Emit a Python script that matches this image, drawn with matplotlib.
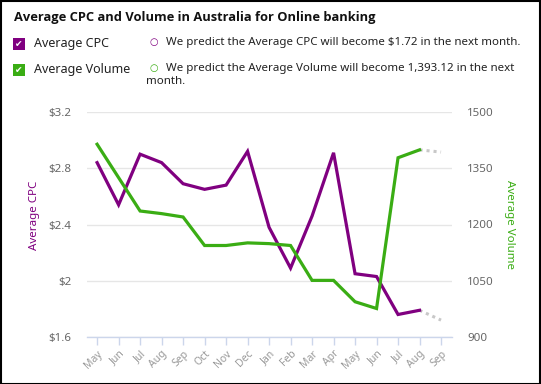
import matplotlib
matplotlib.use("Agg")
import matplotlib.pyplot as plt
from matplotlib.patches import Rectangle

plt.rcParams['font.family'] = ['Noto Sans', 'DejaVu Sans']

months = ["May", "Jun", "Jul", "Aug", "Sep", "Oct", "Nov", "Dec", "Jan", "Feb",
          "Mar", "Apr", "May", "Jun", "Jul", "Aug", "Sep"]
cpc = [2.84, 2.54, 2.90, 2.84, 2.69, 2.65, 2.68, 2.92, 2.38, 2.09,
       2.46, 2.91, 2.05, 2.03, 1.76, 1.79]
volume = [1414, 1325, 1236, 1229, 1220, 1144, 1144, 1151, 1149, 1144,
          1051, 1051, 994, 976, 1378, 1399]
cpc_pred = 1.72
vol_pred = 1393.12

cpc_ticks = [1.6, 2.0, 2.4, 2.8, 3.2]
cpc_labels = ["$1.6", "$2", "$2.4", "$2.8", "$3.2"]
vol_ticks = [900, 1050, 1200, 1350, 1500]

PURPLE = "#800080"
GREEN = "#3aad14"
GRAY = "#666666"
AXC = "#ccd6eb"

fig = plt.figure(figsize=(5.41, 3.84), dpi=100)
ax = fig.add_axes([87/541, 1-337/384, (452-87)/541, (337-112)/384])
ax2 = ax.twinx()

x = list(range(len(cpc)))
n = len(months)

ax.plot(x, cpc, color=PURPLE, lw=2.3, solid_joinstyle='miter', zorder=3)
ax.plot([x[-1], n-1], [cpc[-1], cpc_pred], color="#c8c8c8", lw=2.2,
        linestyle=(0, (1, 1.3)), zorder=2)
ax2.plot(x, volume, color=GREEN, lw=2.3, solid_joinstyle='miter', zorder=3)
ax2.plot([x[-1], n-1], [volume[-1], vol_pred], color="#c8c8c8", lw=2.2,
         linestyle=(0, (1, 1.3)), zorder=2)

ax.set_xlim(-0.47, n-1+0.51)
ax.set_ylim(1.6, 3.2)
ax2.set_ylim(900, 1500)
ax.set_yticks(cpc_ticks)
ax.set_yticklabels(cpc_labels)
ax2.set_yticks(vol_ticks)
ax.set_xticks(range(n))
ax.set_xticklabels(months, rotation=45, ha='right', rotation_mode='anchor')

for a in (ax, ax2):
    for s in a.spines.values():
        s.set_visible(False)
ax.spines['bottom'].set_visible(True)
ax.spines['bottom'].set_color(AXC)
ax.spines['bottom'].set_linewidth(1)
ax.set_axisbelow(True)
ax.grid(axis='y', color="#e6e6e6", lw=1)
ax.tick_params(axis='x', colors=AXC, length=6, width=1, labelcolor="#999999",
               labelsize=7.5, pad=2)
ax.tick_params(axis='y', length=0, labelcolor=GRAY, labelsize=8.3, pad=11)
ax2.tick_params(axis='y', length=0, labelcolor=GRAY, labelsize=8.3, pad=11)

fig.text(35/541, 1-215/384, "Average CPC", color=PURPLE, fontsize=8.3,
         rotation=90, ha='center', va='center')
fig.text(510/541, 1-225/384, "Average Volume", color=GREEN, fontsize=8.3,
         rotation=270, ha='center', va='center')

fig.text(14/541, 1-18/384, "Average CPC and Volume in Australia for Online banking",
         fontsize=9.3, fontweight='bold', ha='left', va='center', color="#111111",
         family=['Open Sans', 'DejaVu Sans'])

# legend checkboxes
for yc, col, lab in [(44, PURPLE, "Average CPC"), (70, GREEN, "Average Volume")]:
    fig.patches.append(Rectangle((13/541, 1-(yc+6)/384), 12/541, 12/384,
                                 transform=fig.transFigure, facecolor=col,
                                 edgecolor='none'))
    fig.text(19/541, 1-yc/384, "\u2714", color='white', fontsize=6.5,
             ha='center', va='center', family=['DejaVu Sans'])
    fig.text(34/541, 1-yc/384, lab, fontsize=9, ha='left', va='center',
             color="#222222")

fig.text(154/541, 1-42/384, "\u25cb", color=PURPLE, fontsize=7, ha='center',
         va='center', family=['DejaVu Sans'])
fig.text(166/541, 1-42/384,
         "We predict the Average CPC will become $1.72 in the next month.",
         fontsize=8.3, ha='left', va='center', color="#222222")
fig.text(154/541, 1-68/384, "\u25cb", color=GREEN, fontsize=7, ha='center',
         va='center', family=['DejaVu Sans'])
fig.text(166/541, 1-68/384,
         "We predict the Average Volume will become 1,393.12 in the next",
         fontsize=8.3, ha='left', va='center', color="#222222")
fig.text(146/541, 1-81/384, "month.", fontsize=8.3, ha='left', va='center',
         color="#222222")

fig.patches.append(Rectangle((0.5/541, 0.5/384), 539.5/541, 382.5/384,
                             transform=fig.transFigure, facecolor='none',
                             edgecolor='black', lw=1.5))

fig.savefig("out.png", dpi=100)
